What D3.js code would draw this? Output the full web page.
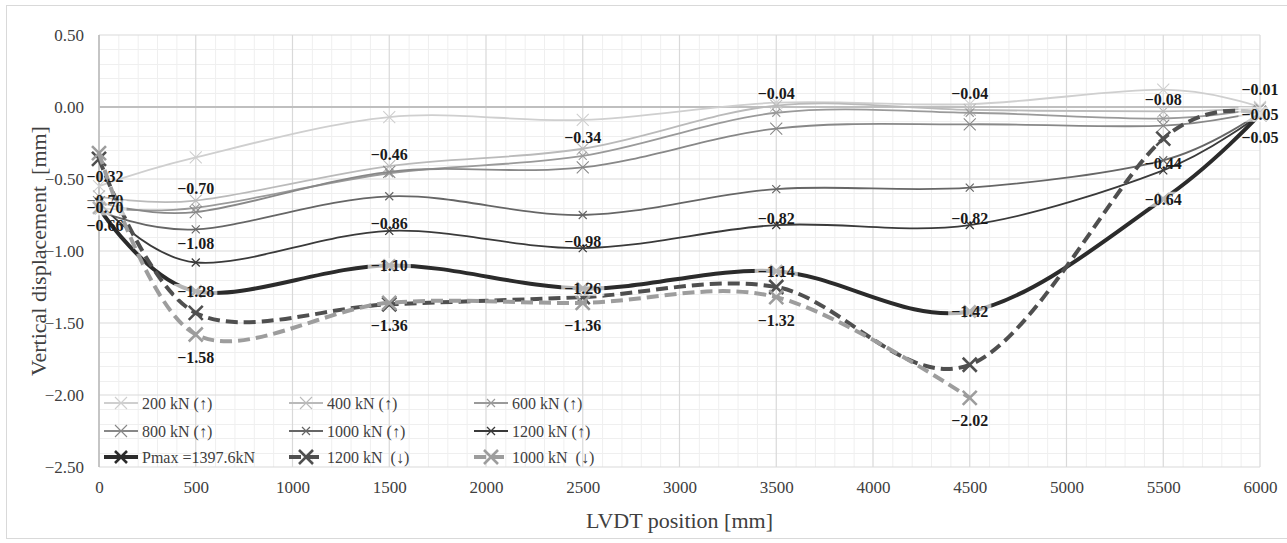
<!DOCTYPE html>
<html><head><meta charset="utf-8">
<script src="https://cdn.jsdelivr.net/npm/d3@7"></script>
<style>
html,body{margin:0;padding:0;background:#fff;}
svg{display:block;font-family:"Liberation Serif","Times New Roman",serif;}
</style></head><body>
<svg id="chart" width="1287" height="543"></svg>
<script>
// LVDT positions along the beam [mm]
const positions = [0, 500, 1500, 2500, 3500, 4500, 5500, 6000];

// Vertical displacement [mm] per load step (null = no reading)
const load200up  = [-0.55, -0.35, -0.07, -0.09,  0.03,  0.02,  0.12,  0.00];
const load400up  = [-0.62, -0.65, -0.41, -0.29,  0.01, -0.02, -0.03, -0.01];
const load600up  = [-0.70, -0.70, -0.46, -0.34, -0.04, -0.04, -0.08, -0.01];
const load800up  = [-0.66, -0.73, -0.45, -0.42, -0.15, -0.12, -0.13, -0.03];
const load1000up = [-0.72, -0.85, -0.62, -0.75, -0.57, -0.56, -0.37, -0.04];
const load1200up = [-0.66, -1.08, -0.86, -0.98, -0.82, -0.82, -0.44, -0.05];
const loadPmax   = [-0.70, -1.28, -1.10, -1.26, -1.14, -1.42, -0.64, -0.05];
const load1200dn = [-0.36, -1.43, -1.37, -1.32, -1.25, -1.79, -0.22, -0.05];
const load1000dn = [-0.32, -1.58, -1.36, -1.36, -1.32, -2.02,  null, -0.05];

const seriesNames = ["200 kN (\u2191)", "400 kN (\u2191)", "600 kN (\u2191)",
                     "800 kN (\u2191)", "1000 kN (\u2191)", "1200 kN (\u2191)",
                     "Pmax =1397.6kN", "1200 kN  (\u2193)", "1000 kN  (\u2193)"];

const xTicks = [0, 500, 1000, 1500, 2000, 2500, 3000, 3500, 4000, 4500, 5000, 5500, 6000];
const yTicks = [0.5, 0, -0.5, -1, -1.5, -2, -2.5];

// Appearance of each series: line colour/width/dash, marker half-size and stroke,
// label placement (with per-position overrides; "none" hides a label)
const looks = [
  {color:"#cfcfcf", width:1.8, dash:null,   mk:6, mw:1.1, label:null},
  {color:"#bababa", width:1.8, dash:null,   mk:6, mw:1.1, label:null},
  {color:"#9a9a9a", width:1.8, dash:null,   mk:4, mw:1.1, label:"above", at:{0:"near"}},
  {color:"#888888", width:1.8, dash:null,   mk:6, mw:1.1, label:null},
  {color:"#666666", width:1.8, dash:null,   mk:4, mw:1.2, label:null},
  {color:"#3a3a3a", width:1.8, dash:null,   mk:4, mw:1.3, label:"near", at:{0:"below", 500:"above", 6000:"none"}},
  {color:"#2b2b2b", width:4,   dash:null,   mk:6, mw:2.6, label:"center"},
  {color:"#4f4f4f", width:4,   dash:"12,6", mk:7, mw:2.6, label:null},
  {color:"#9d9d9d", width:4,   dash:"12,6", mk:7, mw:2.6, label:"below"}
];

const valueSets = [load200up, load400up, load600up, load800up, load1000up,
                   load1200up, loadPmax, load1200dn, load1000dn];

const series = valueSets.map((vals, i) => ({
  name: seriesNames[i],
  look: looks[i],
  points: positions.map((p, j) => ({x: p, v: vals[j]}))
}));

const svg = d3.select("#chart");
const plot = {left: 99, right: 1260, top: 35, bottom: 467};
const x = d3.scaleLinear().domain([0, 6000]).range([plot.left, plot.right]);
const y = d3.scaleLinear().domain([-2.5, 0.5]).range([plot.bottom, plot.top]);

// chart frame
svg.append("rect").attr("x", 6.5).attr("y", 5.5).attr("width", 1300).attr("height", 533)
  .attr("fill", "none").attr("stroke", "#d9d9d9");

// minor grid
const grid = svg.append("g");
grid.selectAll(".mx").data(d3.range(0, 6001, 100).filter(v => v % 500 !== 0)).join("line")
  .attr("x1", d => x(d) + 0.5).attr("x2", d => x(d) + 0.5)
  .attr("y1", plot.top).attr("y2", plot.bottom)
  .attr("stroke", "#efefef").attr("stroke-width", 1);
grid.selectAll(".my").data(d3.range(-25, 6).filter(v => v % 5 !== 0).map(v => v / 10)).join("line")
  .attr("y1", d => Math.round(y(d)) + 0.5).attr("y2", d => Math.round(y(d)) + 0.5)
  .attr("x1", plot.left).attr("x2", plot.right)
  .attr("stroke", "#efefef").attr("stroke-width", 1);
// major grid
grid.selectAll(".Mx").data(xTicks.filter(v => v !== 0)).join("line")
  .attr("x1", d => x(d)).attr("x2", d => x(d))
  .attr("y1", plot.top).attr("y2", plot.bottom)
  .attr("stroke", "#d9d9d9").attr("stroke-width", 1.2);
grid.selectAll(".My").data(yTicks.filter(v => v !== 0)).join("line")
  .attr("y1", d => y(d)).attr("y2", d => y(d))
  .attr("x1", plot.left).attr("x2", plot.right)
  .attr("stroke", "#d9d9d9").attr("stroke-width", 1.2);
// axis lines
svg.append("line").attr("x1", plot.left).attr("x2", plot.right)
  .attr("y1", y(0)).attr("y2", y(0)).attr("stroke", "#bfbfbf").attr("stroke-width", 1.8);
svg.append("line").attr("x1", x(0)).attr("x2", x(0))
  .attr("y1", plot.top).attr("y2", plot.bottom).attr("stroke", "#bfbfbf").attr("stroke-width", 1.8);

// tick labels
const xAxis = svg.append("g").attr("transform", `translate(0,${plot.bottom})`)
  .call(d3.axisBottom(x).tickValues(xTicks).tickFormat(d3.format("d")).tickSize(0).tickPadding(14));
const yAxis = svg.append("g").attr("transform", `translate(${plot.left},0)`)
  .call(d3.axisLeft(y).tickValues(yTicks).tickFormat(d3.format(".2f")).tickSize(0).tickPadding(15));
[xAxis, yAxis].forEach(a => {
  a.select(".domain").remove();
  a.selectAll("text").attr("font-family", "Liberation Serif").attr("font-size", 17).attr("fill", "#404040");
});

// axis titles
svg.append("text").attr("x", (plot.left + plot.right) / 2).attr("y", 528)
  .attr("text-anchor", "middle").attr("font-size", 22).attr("fill", "#404040")
  .text("LVDT position [mm]");
svg.append("text").attr("transform", `translate(46,${(plot.top + plot.bottom) / 2}) rotate(-90)`)
  .attr("text-anchor", "middle").attr("font-size", 22).attr("fill", "#404040")
  .attr("xml:space", "preserve").text("Vertical displacement  [mm]");

// smoothed curves
const line = d3.line()
  .defined(d => d.v !== null)
  .x(d => x(d.x)).y(d => y(d.v))
  .curve(d3.curveCardinal.tension(0));

const xMark = s => `M${-s},${-s}L${s},${s}M${-s},${s}L${s},${-s}`;

const layers = svg.append("g").selectAll("g").data(series).join("g");
layers.append("path")
  .attr("d", d => line(d.points))
  .attr("fill", "none")
  .attr("stroke", d => d.look.color)
  .attr("stroke-width", d => d.look.width)
  .attr("stroke-dasharray", d => d.look.dash)
  .attr("stroke-linejoin", "round");
layers.each(function(d) {
  d3.select(this).selectAll("path.mk").data(d.points.filter(p => p.v !== null)).join("path")
    .attr("class", "mk")
    .attr("transform", p => `translate(${x(p.x)},${y(p.v)})`)
    .attr("d", xMark(d.look.mk))
    .attr("stroke", d.look.color)
    .attr("stroke-width", d.look.mw)
    .attr("fill", "none");
});

// data labels
const fmt = d3.format(".2f");
const offsets = {above: -19, near: -7, center: 0, below: 23};
const labelLayer = svg.append("g");
series.filter(s => s.look.label).forEach(s => {
  s.points.filter(p => p.v !== null).forEach(p => {
    const place = (s.look.at && s.look.at[p.x]) || s.look.label;
    if (place === "none") return;
    const g = labelLayer.append("g")
      .attr("transform", `translate(${x(p.x) + (p.x === 0 ? 6 : 0)},${y(p.v) + offsets[place]})`);
    const t = g.append("text")
      .attr("text-anchor", "middle").attr("dy", "0.35em")
      .attr("font-size", 16).attr("font-weight", "bold").attr("fill", "#1a1a1a")
      .text(fmt(p.v));
    if (place === "center") {
      const b = t.node().getBBox();
      g.insert("rect", "text").attr("x", b.x - 3).attr("y", b.y + 1)
        .attr("width", b.width + 6).attr("height", b.height - 2)
        .attr("fill", "#ffffff").attr("fill-opacity", 0.65);
    }
  });
});

// legend
const legend = svg.append("g");
const colX = [104, 289, 474], rowY = [403, 431, 457];
series.forEach((s, i) => {
  const g = legend.append("g").attr("transform", `translate(${colX[i % 3]},${rowY[Math.floor(i / 3)]})`);
  g.append("line").attr("x1", 0).attr("x2", 34).attr("y1", 0).attr("y2", 0)
    .attr("stroke", s.look.color).attr("stroke-width", s.look.width)
    .attr("stroke-dasharray", s.look.dash);
  g.append("path").attr("transform", "translate(17,0)").attr("d", xMark(s.look.mk))
    .attr("stroke", s.look.color).attr("stroke-width", s.look.mw).attr("fill", "none");
  g.append("text").attr("x", 38).attr("dy", "0.35em").attr("font-size", 16)
    .attr("fill", "#404040").attr("xml:space", "preserve").text(s.name);
});
</script>
</body></html>
